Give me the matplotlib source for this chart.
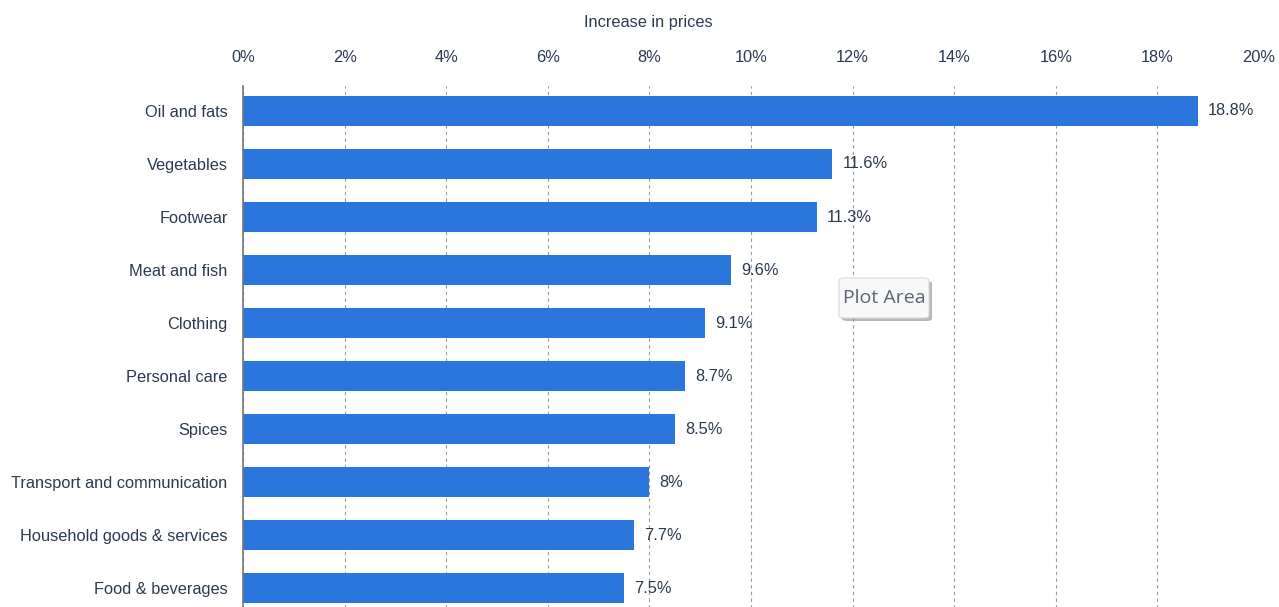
import matplotlib.pyplot as plt
from matplotlib.patches import FancyBboxPatch

categories = ['Oil and fats', 'Vegetables', 'Footwear', 'Meat and fish', 'Clothing',
              'Personal care', 'Spices', 'Transport and communication',
              'Household goods & services', 'Food & beverages']
values = [18.8, 11.6, 11.3, 9.6, 9.1, 8.7, 8.5, 8.0, 7.7, 7.5]
labels = ['18.8%', '11.6%', '11.3%', '9.6%', '9.1%', '8.7%', '8.5%', '8%', '7.7%', '7.5%']
ticks = list(range(0, 21, 2))

plt.rcParams['font.family'] = ['Liberation Sans', 'DejaVu Sans']
text_color = '#2b3a4f'
bar_color = '#2a76dd'
fs = 11.8

fig = plt.figure(figsize=(12.79, 6.07), dpi=100)
ax = fig.add_axes([243 / 1279, -0.02, 1016 / 1279, 1 - 86 / 607 + 0.02])

y = list(range(len(categories)))
ax.barh(y, values, height=0.57, color=bar_color, zorder=3)
for yi, v, lab in zip(y, values, labels):
    ax.text(v + 0.2, yi, lab, va='center', ha='left', fontsize=fs, color=text_color)

ax.set_xlim(0, 20)
ax.set_ylim(9.58, -0.47)
ax.set_yticks(y)
ax.set_yticklabels(categories, fontsize=fs, color=text_color)
ax.set_xticks(ticks)
ax.set_xticklabels([f'{t}%' for t in ticks], fontsize=fs, color=text_color)
ax.xaxis.tick_top()
ax.tick_params(axis='both', length=0)
ax.tick_params(axis='y', pad=11)
ax.tick_params(axis='x', pad=15)

ax.grid(axis='x', linestyle=(0, (3, 3)), color='#9a9a9a', linewidth=0.8, zorder=0)
for s in ['top', 'right', 'bottom']:
    ax.spines[s].set_visible(False)
ax.spines['left'].set_color('#777777')
ax.spines['left'].set_linewidth(1.2)
ax.spines['left'].set_zorder(4)

fig.text(648 / 1279, 1 - 22 / 607, 'Increase in prices', ha='center', va='center',
         fontsize=fs, color=text_color)

# tooltip box
tx0, ty0 = 839 / 1279, 1 - 318 / 607
tw, th = 90 / 1279, 40 / 607
shadow = FancyBboxPatch((tx0 + 3 / 1279, ty0 - 3 / 607), tw, th,
                        boxstyle='round,pad=0,rounding_size=0.004',
                        transform=fig.transFigure, facecolor='#8a8a8a',
                        edgecolor='none', alpha=0.6, zorder=10)
box = FancyBboxPatch((tx0, ty0), tw, th, boxstyle='round,pad=0,rounding_size=0.004',
                     transform=fig.transFigure, facecolor='#f8f8f8',
                     edgecolor='#d8d8d8', linewidth=0.8, zorder=11)
fig.patches.extend([shadow, box])
fig.text(tx0 + tw / 2, ty0 + th / 2, 'Plot Area', ha='center', va='center',
         fontsize=14, color='#5a6478', family=['Open Sans', 'DejaVu Sans'], zorder=12)

fig.savefig('out.png', dpi=100)
